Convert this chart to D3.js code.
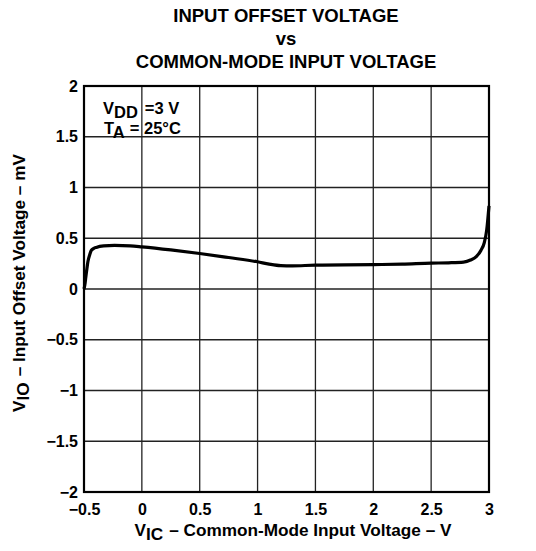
<!DOCTYPE html>
<html>
<head>
<meta charset="utf-8">
<script src="https://cdn.jsdelivr.net/npm/d3@7"></script>
<style>
  body { margin: 0; background: #fff; }
  text { font-family: "Liberation Sans", Arial, sans-serif; font-weight: bold; fill: #000; white-space: pre; }
</style>
</head>
<body>
<svg id="chart"></svg>
<script>
// data
const vic = [-0.5, -0.49, -0.485, -0.475, -0.466, -0.45, -0.437, -0.415, -0.394, -0.33, -0.236, -0.1, 0, 0.25, 0.5, 0.75, 1, 1.1, 1.2, 1.3, 1.5, 1.75, 2, 2.25, 2.5, 2.65, 2.78, 2.84, 2.89, 2.93, 2.96, 2.98, 3];
const vio = [0, 0.06, 0.11, 0.2, 0.27, 0.34, 0.38, 0.4, 0.41, 0.425, 0.43, 0.425, 0.415, 0.385, 0.35, 0.31, 0.268, 0.245, 0.23, 0.228, 0.235, 0.237, 0.24, 0.245, 0.255, 0.258, 0.265, 0.285, 0.32, 0.38, 0.46, 0.58, 0.82];
const xTicks = [-0.5, 0, 0.5, 1, 1.5, 2, 2.5, 3];
const yTicks = [-2, -1.5, -1, -0.5, 0, 0.5, 1, 1.5, 2];
const titleLines = ["INPUT OFFSET VOLTAGE", "vs", "COMMON-MODE INPUT VOLTAGE"];

const width = 536;
const height = 551;
const plotL = 84, plotR = 489, plotT = 86, plotB = 492;

const svg = d3.select("#chart").attr("width", width).attr("height", height);

const x = d3.scaleLinear().domain([-0.5, 3]).range([plotL, plotR]);
const y = d3.scaleLinear().domain([-2, 2]).range([plotB, plotT]);

const fmt = (d) => String(d).replace("-", "\u2212");

// title
svg.append("g")
  .selectAll("text")
  .data(titleLines)
  .join("text")
  .attr("x", 286)
  .attr("y", (d, i) => 22 + i * 23)
  .attr("text-anchor", "middle")
  .attr("font-size", 18.5)
  .text((d) => d);

// grid
const grid = svg.append("g");
grid.selectAll("line.gx")
  .data(xTicks)
  .join("line")
  .attr("x1", (d) => x(d)).attr("x2", (d) => x(d))
  .attr("y1", plotT).attr("y2", plotB)
  .attr("stroke", "#222").attr("stroke-width", 1.3);
grid.selectAll("line.gy")
  .data(yTicks)
  .join("line")
  .attr("class", "gy")
  .attr("x1", plotL).attr("x2", plotR)
  .attr("y1", (d) => y(d)).attr("y2", (d) => y(d))
  .attr("stroke", "#222").attr("stroke-width", 1.3);

svg.append("rect")
  .attr("x", plotL).attr("y", plotT)
  .attr("width", plotR - plotL).attr("height", plotB - plotT)
  .attr("fill", "none").attr("stroke", "#000").attr("stroke-width", 2.2);

// axes
const xAxis = d3.axisBottom(x).tickValues(xTicks).tickSize(0).tickPadding(12).tickFormat(fmt);
const yAxis = d3.axisLeft(y).tickValues(yTicks).tickSize(0).tickPadding(6).tickFormat(fmt);

svg.append("g")
  .attr("transform", `translate(0,${plotB})`)
  .call(xAxis)
  .call((g) => g.select(".domain").remove())
  .selectAll("text")
  .attr("font-size", 16)
  .attr("font-family", "Liberation Sans, Arial, sans-serif")
  .attr("font-weight", "bold")
  .attr("fill", "#000");

svg.append("g")
  .attr("transform", `translate(${plotL},0)`)
  .call(yAxis)
  .call((g) => g.select(".domain").remove())
  .selectAll("text")
  .attr("font-size", 16)
  .attr("font-family", "Liberation Sans, Arial, sans-serif")
  .attr("font-weight", "bold")
  .attr("fill", "#000");

// curve
const pts = vic.map((v, i) => [v, vio[i]]);
svg.append("path")
  .datum(pts)
  .attr("d", d3.line().x((d) => x(d[0])).y((d) => y(d[1])).curve(d3.curveMonotoneX))
  .attr("fill", "none")
  .attr("stroke", "#000")
  .attr("stroke-width", 3.2)
  .attr("stroke-linejoin", "round");

// conditions
const cond = svg.append("g").attr("font-size", 16.5);
const c1 = cond.append("text").attr("x", 103).attr("y", 114);
c1.append("tspan").text("V");
c1.append("tspan").attr("dy", 4).text("DD");
c1.append("tspan").attr("dy", -4).attr("dx", 7).text("=3 V");
const c2 = cond.append("text").attr("x", 104).attr("y", 134);
c2.append("tspan").text("T");
c2.append("tspan").attr("dy", 4).text("A");
c2.append("tspan").attr("dy", -4).attr("dx", 5).text("= 25\u00B0C");

// x label
const xl = svg.append("text")
  .attr("x", 293).attr("y", 536)
  .attr("text-anchor", "middle")
  .attr("font-size", 17.2);
xl.append("tspan").text("V");
xl.append("tspan").attr("dy", 4).text("IC");
xl.append("tspan").attr("dy", -4).attr("dx", 6).text("\u2013 Common-Mode Input Voltage \u2013 V");

// y label
const yl = svg.append("text")
  .attr("transform", "translate(25,283) rotate(-90)")
  .attr("text-anchor", "middle")
  .attr("font-size", 17.2);
yl.append("tspan").text("V");
yl.append("tspan").attr("dy", 4).text("IO");
yl.append("tspan").attr("dy", -4).attr("dx", 6).text("\u2013 Input Offset Voltage \u2013 mV");
</script>
</body>
</html>
